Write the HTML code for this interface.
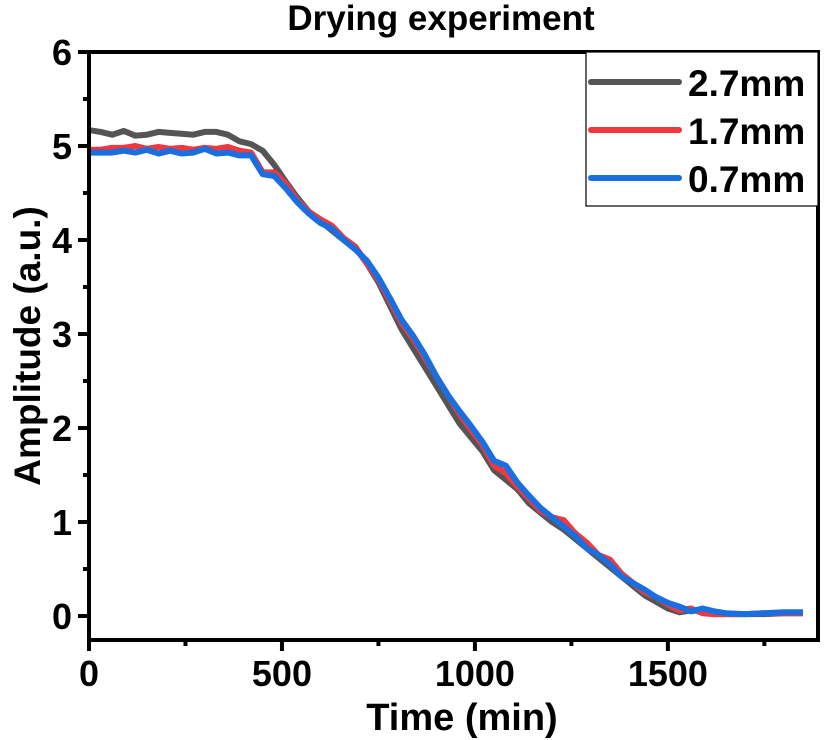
<!DOCTYPE html>
<html><head><meta charset="utf-8"><style>
body{margin:0;background:#fff;}
svg{display:block;font-family:"Liberation Sans",Arial,sans-serif;font-weight:bold;}
</style></head><body>
<svg id="chart" width="826" height="740" viewBox="0 0 826 740" xmlns="http://www.w3.org/2000/svg">
<text x="441" y="30" font-size="35" text-anchor="middle">Drying experiment</text>
<g id="series"></g>
<g id="axes"></g>
<text x="462" y="730" font-size="38" text-anchor="middle">Time (min)</text>
<text transform="translate(40,346) rotate(-90)" font-size="37" text-anchor="middle">Amplitude (a.u.)</text>
<g>
<rect x="586" y="52" width="232" height="154" fill="#fff" stroke="#000" stroke-width="1.2"/>
<line x1="591" y1="82" x2="679" y2="82" stroke="#555" stroke-width="6" stroke-linecap="round"/>
<text x="688" y="96" font-size="37">2.7mm</text>
<line x1="591" y1="130" x2="679" y2="130" stroke="#f0383e" stroke-width="6" stroke-linecap="round"/>
<text x="688" y="144" font-size="37">1.7mm</text>
<line x1="591" y1="178" x2="679" y2="178" stroke="#1a6fe0" stroke-width="6" stroke-linecap="round"/>
<text x="688" y="192" font-size="37">0.7mm</text>
</g>
</svg>
<script>
const xTicks=[0,500,1000,1500];
const yTicks=[0,1,2,3,4,5,6];
const times=[0,30,60,90,120,150,180,210,240,270,300,330,360,390,420,450,480,510,540,570,600,630,660,690,720,750,780,810,840,870,900,930,960,990,1020,1050,1080,1110,1140,1170,1200,1230,1260,1290,1320,1350,1380,1410,1440,1470,1500,1530,1560,1590,1620,1650,1700,1750,1800,1850];
const s27=[5.17,5.15,5.12,5.16,5.11,5.12,5.15,5.14,5.13,5.12,5.15,5.15,5.12,5.05,5.02,4.95,4.8,4.62,4.45,4.3,4.2,4.1,4.0,3.92,3.75,3.55,3.3,3.05,2.85,2.65,2.45,2.25,2.05,1.9,1.75,1.55,1.45,1.35,1.2,1.1,1.0,0.92,0.82,0.72,0.62,0.52,0.42,0.32,0.22,0.15,0.08,0.04,0.06,0.05,0.02,0.02,0.02,0.02,0.03,0.03];
const s17=[4.96,4.96,4.98,4.98,5.0,4.97,4.99,4.97,4.98,4.96,4.98,4.97,4.99,4.95,4.93,4.72,4.72,4.6,4.42,4.3,4.22,4.15,4.02,3.93,3.75,3.58,3.35,3.12,2.95,2.75,2.55,2.35,2.15,1.98,1.82,1.6,1.52,1.38,1.25,1.12,1.05,1.02,0.88,0.78,0.65,0.6,0.45,0.35,0.25,0.2,0.12,0.06,0.08,0.03,0.02,0.02,0.02,0.03,0.03,0.03];
const s07=[4.93,4.93,4.93,4.95,4.93,4.96,4.92,4.95,4.92,4.93,4.97,4.92,4.93,4.9,4.9,4.7,4.68,4.55,4.4,4.28,4.18,4.12,4.0,3.9,3.78,3.6,3.38,3.15,2.98,2.78,2.55,2.35,2.18,2.02,1.85,1.65,1.6,1.42,1.28,1.15,1.05,0.95,0.85,0.72,0.65,0.55,0.42,0.35,0.28,0.2,0.14,0.1,0.05,0.08,0.05,0.03,0.02,0.03,0.04,0.04];
const X0=89,X1=818,Y0=640,Y1=52,XMIN=0,XMAX=1889,YMIN=-0.255,YMAX=6;
const sx=v=>X0+(v-XMIN)/(XMAX-XMIN)*(X1-X0);
const sy=v=>Y0-(v-YMIN)/(YMAX-YMIN)*(Y0-Y1);
const NS="http://www.w3.org/2000/svg";
const sg=document.getElementById('series'),ag=document.getElementById('axes');
function mk(t,a,p){const e=document.createElementNS(NS,t);for(const k in a)e.setAttribute(k,a[k]);p.appendChild(e);return e;}
[[s27,'#555','series-2.7mm'],[s17,'#f0383e','series-1.7mm'],[s07,'#1a6fe0','series-0.7mm']].forEach(([d,c,n])=>{
 const p=mk('polyline',{points:d.map((v,i)=>sx(times[i])+','+sy(v)).join(' '),fill:'none',stroke:c,'stroke-width':6,'stroke-linejoin':'round'},sg);
 
 
});
const fr=mk('rect',{x:X0,y:Y1,width:X1-X0,height:Y0-Y1,fill:'none',stroke:'#000','stroke-width':4},ag);


xTicks.forEach(v=>{
 const l=mk('line',{x1:sx(v),y1:Y0,x2:sx(v),y2:Y0+11,stroke:'#000','stroke-width':4},ag);
 
 
 const m=mk('line',{x1:sx(v+250),y1:Y0,x2:sx(v+250),y2:Y0+6,stroke:'#000','stroke-width':4},ag);
 
 
 const t=mk('text',{x:sx(v),y:Y0+46,'font-size':36,'text-anchor':'middle'},ag);t.textContent=v;
 
 
});
yTicks.forEach(v=>{
 const l=mk('line',{x1:X0-11,y1:sy(v),x2:X0,y2:sy(v),stroke:'#000','stroke-width':4},ag);
 
 
 if(v<6){const m=mk('line',{x1:X0-6,y1:sy(v+0.5),x2:X0,y2:sy(v+0.5),stroke:'#000','stroke-width':4},ag);
 
 }
 const t=mk('text',{x:X0-17,y:sy(v)+13,'font-size':36,'text-anchor':'end'},ag);t.textContent=v;
 
 
});
</script>
</body></html>
